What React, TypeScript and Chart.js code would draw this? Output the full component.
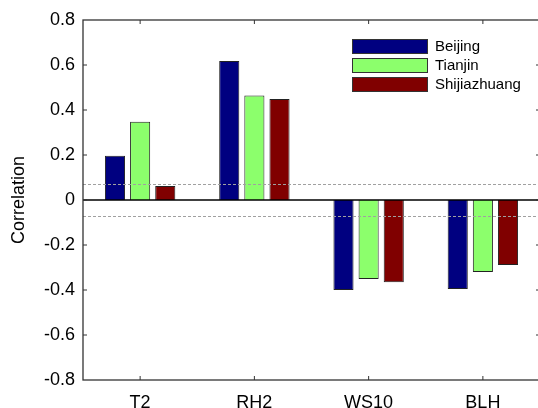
import React, { useEffect, useRef } from "react";
import { Chart, registerables } from "chart.js";

Chart.register(...registerables);

const categories = ["T2", "RH2", "WS10", "BLH"];
const seriesNames = ["Beijing", "Tianjin", "Shijiazhuang"];
const beijing = [0.197, 0.618, -0.4, -0.396];
const tianjin = [0.348, 0.464, -0.351, -0.32];
const shijiazhuang = [0.062, 0.449, -0.366, -0.289];
const seriesColors = ["#000080", "#8cff6c", "#800000"];
const thresholds = [0.073, -0.073];
const yTicks = [-0.8, -0.6, -0.4, -0.2, 0, 0.2, 0.4, 0.6, 0.8];

const FONT = "'Liberation Sans', Arial, sans-serif";

const framePlugin = {
  id: "framePlugin",
  afterDatasetsDraw(chart: any) {
    const { ctx, chartArea } = chart;
    const { left, right, top, bottom } = chartArea;
    const y = chart.scales.y;
    const x = chart.scales.x;
    ctx.save();
    // threshold dashed lines
    ctx.strokeStyle = "#a0a0a0";
    ctx.lineWidth = 1;
    ctx.setLineDash([3, 2]);
    thresholds.forEach((t) => {
      const py = Math.round(y.getPixelForValue(t)) + 0.5;
      ctx.beginPath();
      ctx.moveTo(left, py);
      ctx.lineTo(right, py);
      ctx.stroke();
    });
    ctx.setLineDash([]);
    // zero line
    ctx.strokeStyle = "#000";
    ctx.lineWidth = 1.6;
    const z = y.getPixelForValue(0);
    ctx.beginPath();
    ctx.moveTo(left, z);
    ctx.lineTo(right, z);
    ctx.stroke();
    // frame
    ctx.strokeStyle = "#333";
    ctx.lineWidth = 1.3;
    ctx.strokeRect(left, top, right - left, bottom - top);
    // inward ticks
    ctx.lineWidth = 1;
    const tl = 4;
    yTicks.forEach((v) => {
      if (v === yTicks[0] || v === yTicks[yTicks.length - 1]) return;
      const py = y.getPixelForValue(v);
      ctx.beginPath();
      ctx.moveTo(left, py);
      ctx.lineTo(left + tl, py);
      ctx.moveTo(right, py);
      ctx.lineTo(right - tl, py);
      ctx.stroke();
    });
    categories.forEach((_, i) => {
      const px = x.getPixelForValue(i);
      ctx.beginPath();
      ctx.moveTo(px, top);
      ctx.lineTo(px, top + tl);
      ctx.moveTo(px, bottom);
      ctx.lineTo(px, bottom - tl);
      ctx.stroke();
    });
    // legend
    const lx = 352;
    const ly = 39;
    const bw = 75;
    const bh = 14;
    const gap = 19;
    ctx.font = `15px ${FONT}`;
    ctx.textBaseline = "middle";
    ctx.textAlign = "left";
    chart.data.datasets.forEach((ds: any, i: number) => {
      const by = ly + i * gap;
      ctx.fillStyle = ds.backgroundColor;
      ctx.fillRect(lx, by, bw, bh);
      ctx.strokeStyle = "#333";
      ctx.lineWidth = 1;
      ctx.strokeRect(lx + 0.5, by + 0.5, bw, bh);
      ctx.fillStyle = "#000";
      ctx.fillText(ds.label, lx + bw + 8, by + bh / 2 + 1);
    });
    ctx.restore();
  },
};

export default function App() {
  const ref = useRef<HTMLCanvasElement | null>(null);
  useEffect(() => {
    if (!ref.current) return;
    const values = [beijing, tianjin, shijiazhuang];
    const chart = new Chart(ref.current, {
      type: "bar",
      data: {
        labels: categories,
        datasets: seriesNames.map((name, i) => ({
          label: name,
          data: values[i],
          backgroundColor: seriesColors[i],
          borderColor: "#222",
          borderWidth: 1,
          barPercentage: 0.8,
          categoryPercentage: 0.66,
        })),
      },
      options: {
        animation: false,
        responsive: false,
        devicePixelRatio: 1,
        layout: { padding: { top: 20, right: 8, left: 0, bottom: 0 } },
        plugins: { legend: { display: false }, tooltip: { enabled: false } },
        scales: {
          x: {
            grid: { display: false, drawTicks: false },
            border: { display: false },
            ticks: { color: "#000", font: { family: FONT, size: 18 }, padding: 12 },
            afterFit(scale: any) {
              scale.height = 28;
            },
          },
          y: {
            min: -0.8,
            max: 0.8,
            grid: { display: false, drawTicks: false },
            border: { display: false },
            afterBuildTicks(scale: any) {
              scale.ticks = yTicks.map((v) => ({ value: v }));
            },
            ticks: {
              color: "#000",
              font: { family: FONT, size: 18 },
              padding: 8,
              callback: (v: any) => String(Math.round(Number(v) * 10) / 10),
            },
            title: {
              display: true,
              text: "Correlation",
              color: "#000",
              font: { family: FONT, size: 18 },
              padding: { top: 8, bottom: 0 },
            },
            afterFit(scale: any) {
              scale.width = 83;
            },
          },
        },
      },
      plugins: [framePlugin],
    });
    return () => chart.destroy();
  }, []);
  return (
    <div style={{ position: "absolute", left: 0, top: 0, width: 538, height: 408, overflow: "hidden", background: "#fff" }}>
      <canvas ref={ref} width={548} height={408} style={{ width: 548, height: 408, display: "block" }} />
    </div>
  );
}
